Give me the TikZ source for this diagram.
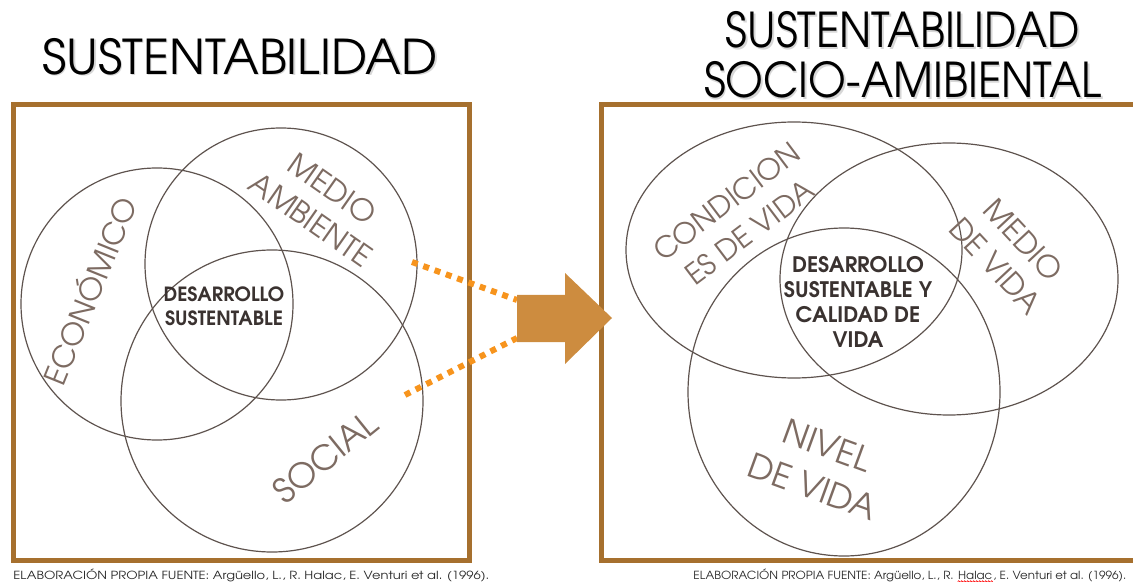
\documentclass[tikz,border=0pt]{standalone}
\usepackage{fontspec}
\setmainfont{TeX Gyre Adventor}
\usetikzlibrary{decorations.pathmorphing}

\definecolor{marco}{HTML}{A6702E}
\definecolor{linea}{HTML}{5E534E}
\definecolor{etiq}{HTML}{7D6B62}
\definecolor{oscuro}{HTML}{3A3230}
\definecolor{flecha}{HTML}{CD8C3F}
\definecolor{puntos}{HTML}{F7941D}

\tikzset{
  circulo/.style={draw=linea, line width=0.6pt},
  caja/.style={draw=marco, line width=2.5pt},
  etiqueta/.style={text=etiq, align=center, inner sep=0pt,
    font=\fontsize{15}{19}\selectfont},
  centro/.style={text=oscuro, align=center, inner sep=0pt,
    font=\bfseries\fontsize{9.8}{12}\selectfont},
  titulo/.style={align=center, inner sep=0pt,
    font=\fontsize{24}{25}\selectfont},
  sombra/.style={titulo, text=black!45, opacity=0.35},
  punteado/.style={draw=puntos, line width=3pt, dash pattern=on 3pt off 3pt},
  nota/.style={anchor=base west, inner sep=0pt, text=black!85,
    font=\fontsize{5.6}{6}\selectfont}
}

\begin{document}
\begin{tikzpicture}[x=0.5pt,y=-0.5pt]
\useasboundingbox (0,0) rectangle (1133,582);

% titulos
\node[sombra, xscale=1.01] (tit1s) at (241.5,58) {SUSTENTABILIDAD};
\node[titulo, xscale=1.01] (tit1) at (240,56.5) {SUSTENTABILIDAD};
\node[sombra, xscale=0.905] (tit2s) at (904.5,56.5) {SUSTENTABILIDAD\\SOCIO-AMIBIENTAL};
\node[titulo, xscale=0.905] (tit2) at (903,55) {SUSTENTABILIDAD\\SOCIO-AMIBIENTAL};

% marcos
\draw[caja] (13,105) rectangle (469,560);
\draw[caja] (601,105) rectangle (1145,560);

% diagrama izquierdo
\draw[circulo] (157,304) circle (136);
\draw[circulo] (281,264) circle (136);
\draw[circulo] (272,401) circle (151);
\node[etiqueta, rotate=68] (econ) at (88,290) {ECONÓMICO};
\node[etiqueta, rotate=-35] (medio) at (322,204) {MEDIO\\AMBIENTE};
\node[etiqueta, rotate=39, font=\fontsize{17}{19}\selectfont] (social) at (325,457) {SOCIAL};
\node[centro] (ds) at (224,306) {DESARROLLO\\SUSTENTABLE};

% flecha y lineas punteadas
\coordinate (p1) at (412,262);
\coordinate (p2) at (405,395);
\coordinate (f1) at (517,300);
\coordinate (f2) at (517,338);
\draw[punteado] (p1) -- (f1);
\draw[punteado] (p2) -- (f2);
\fill[flecha] (517,295) -- (565,295) -- (565,273) -- (612,318)
  -- (565,364) -- (565,342) -- (517,342) -- cycle;

% diagrama derecho
\draw[circulo] (794,250) ellipse [x radius=168, y radius=128];
\draw[circulo] (949,279) ellipse [x radius=169, y radius=136];
\draw[circulo] (844,392) ellipse [x radius=156, y radius=164];
\node[etiqueta, rotate=37, font=\fontsize{14.5}{19}\selectfont] (cond) at (738,217) {CONDICION\\ES DE VIDA};
\node[etiqueta, rotate=-47] (mvida) at (1010,253) {MEDIO\\DE VIDA};
\node[etiqueta, rotate=-20, font=\fontsize{17}{22}\selectfont] (nivel) at (820,466) {NIVEL\\DE VIDA};
\node[centro, font=\bfseries\fontsize{10.7}{12.5}\selectfont] (dscv) at (858,302)
  {DESARROLLO\\SUSTENTABLE Y\\CALIDAD DE\\VIDA};

% notas
\node[nota, xscale=1.165] (nota1) at (13,579) {ELABORACIÓN PROPIA FUENTE: Argüello, L., R. Halac, E. Venturi et al. (1996).};
\node[nota, xscale=1.055] (nota2) at (693,579) {ELABORACIÓN PROPIA FUENTE: Argüello, L., R.};
\node[nota, xscale=1.055, xshift=1.7pt] (halac) at (nota2.base east) {Halac};
\node[nota, xscale=1.055] (nota3) at (halac.base east) {, E. Venturi et al. (1996).};
\draw[red, line width=0.3pt, decorate, decoration={snake, amplitude=0.4pt, segment length=1.5pt}]
  ([yshift=-1pt]halac.south west) -- ([yshift=-1pt]halac.south east);
\end{tikzpicture}
\end{document}
